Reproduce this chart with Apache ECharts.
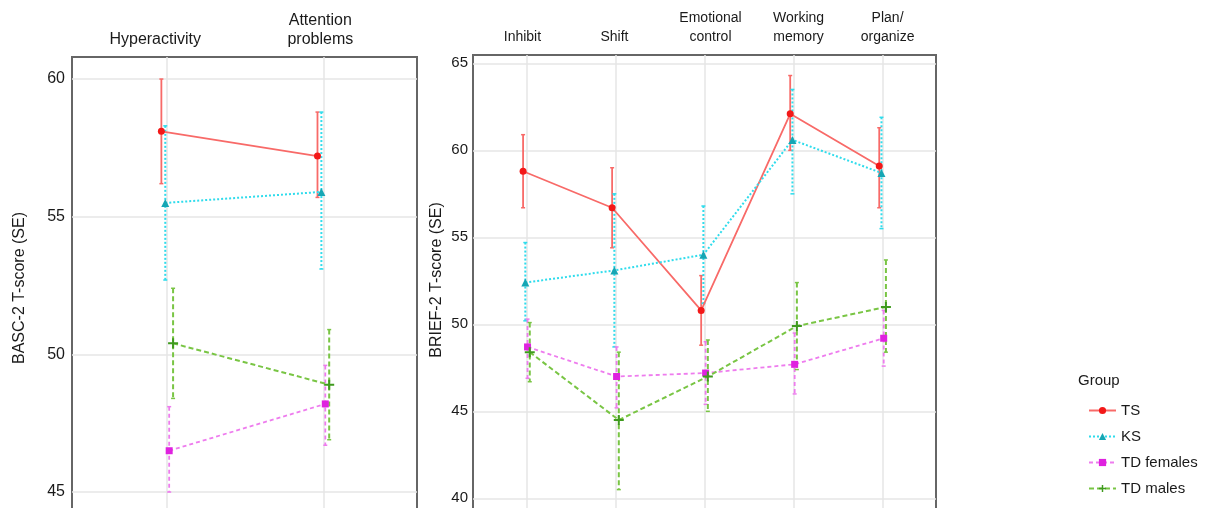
<!DOCTYPE html>
<html>
<head>
<meta charset="utf-8">
<script src="https://cdn.jsdelivr.net/npm/echarts@6/dist/echarts.min.js"></script>
<style>html,body{margin:0;padding:0;background:#fff;}#c{width:1217px;height:508px;}</style>
</head>
<body>
<div id="c"></div>
<script>
// ---- data ----
const bascCats = ['Hyperactivity', 'Attention\nproblems'];
const briefCats = ['Inhibit', 'Shift', 'Emotional\ncontrol', 'Working\nmemory', 'Plan/\norganize'];
const groups = ['TS', 'KS', 'TD females', 'TD males'];
const bascTicks = [45, 50, 55, 60];
const briefTicks = [40, 45, 50, 55, 60, 65];

// BASC-2: mean, lower SE, upper SE per category
const bascTS_mean = [58.1, 57.2];
const bascTS_lo   = [56.2, 55.7];
const bascTS_hi   = [60.0, 58.8];
const bascKS_mean = [55.5, 55.9];
const bascKS_lo   = [52.7, 53.1];
const bascKS_hi   = [58.3, 58.8];
const bascTDf_mean = [46.5, 48.2];
const bascTDf_lo   = [45.0, 46.7];
const bascTDf_hi   = [48.1, 49.6];
const bascTDm_mean = [50.4, 48.9];
const bascTDm_lo   = [48.4, 46.9];
const bascTDm_hi   = [52.4, 50.9];

// BRIEF-2
const briefTS_mean = [58.8, 56.7, 50.8, 62.1, 59.1];
const briefTS_lo   = [56.7, 54.4, 48.8, 60.0, 56.7];
const briefTS_hi   = [60.9, 59.0, 52.8, 64.3, 61.3];
const briefKS_mean = [52.4, 53.1, 54.0, 60.6, 58.7];
const briefKS_lo   = [50.2, 48.7, 51.2, 57.5, 55.5];
const briefKS_hi   = [54.7, 57.5, 56.8, 63.5, 61.9];
const briefTDf_mean = [48.7, 47.0, 47.2, 47.7, 49.2];
const briefTDf_lo   = [46.9, 45.2, 45.4, 46.0, 47.6];
const briefTDf_hi   = [50.3, 48.7, 49.0, 49.5, 50.8];
const briefTDm_mean = [48.4, 44.5, 47.0, 49.9, 51.0];
const briefTDm_lo   = [46.7, 40.5, 45.0, 47.4, 48.4];
const briefTDm_hi   = [50.1, 48.4, 49.1, 52.4, 53.7];

// ---- styles ----
const FONT = "'Liberation Sans', Arial, sans-serif";
const TXT = '#1a1a1a';
const dodge = [-0.0375, -0.0125, 0.0125, 0.0375];
// horizontal nudges (px) of the top category labels
const bascLabelShift = [-12, -3];
const briefLabelShift = [-4, -1, 6, 5, 5];
const styles = [
  { line: '#f86a68', point: '#f31818', dash: 'solid', width: 1.8, symbol: 'circle', size: 7 },
  { line: '#2fdcec', point: '#16a6b4', dash: [2, 2], width: 2, symbol: 'triangle', size: 8 },
  { line: '#ee7cee', point: '#df22df', dash: [4, 3], width: 1.8, symbol: 'rect', size: 7 },
  { line: '#79c544', point: '#3f9a1e', dash: [5, 3], width: 2, symbol: 'path://M4,0H6V4H10V6H6V10H4V6H0V4H4Z', size: 10 }
];

const basc = [
  [bascTS_mean, bascTS_lo, bascTS_hi],
  [bascKS_mean, bascKS_lo, bascKS_hi],
  [bascTDf_mean, bascTDf_lo, bascTDf_hi],
  [bascTDm_mean, bascTDm_lo, bascTDm_hi]
];
const brief = [
  [briefTS_mean, briefTS_lo, briefTS_hi],
  [briefKS_mean, briefKS_lo, briefKS_hi],
  [briefTDf_mean, briefTDf_lo, briefTDf_hi],
  [briefTDm_mean, briefTDm_lo, briefTDm_hi]
];

function errRender(st) {
  return function (params, api) {
    const x = api.value(0);
    const pHi = api.coord([x, api.value(2)]);
    const pLo = api.coord([x, api.value(1)]);
    const s = { stroke: st.line, lineWidth: st.width, lineDash: st.dash === 'solid' ? null : st.dash };
    const cw = 2;
    return {
      type: 'group',
      children: [
        { type: 'line', shape: { x1: pHi[0], y1: pHi[1], x2: pLo[0], y2: pLo[1] }, style: s },
        { type: 'line', shape: { x1: pHi[0] - cw, y1: pHi[1], x2: pHi[0] + cw, y2: pHi[1] }, style: { stroke: st.line, lineWidth: 1.5 } },
        { type: 'line', shape: { x1: pLo[0] - cw, y1: pLo[1], x2: pLo[0] + cw, y2: pLo[1] }, style: { stroke: st.line, lineWidth: 1.5 } }
      ]
    };
  };
}

const series = [];
[basc, brief].forEach(function (panel, gi) {
  panel.forEach(function (g, si) {
    const st = styles[si];
    const mean = g[0], lo = g[1], hi = g[2];
    series.push({
      type: 'custom', name: groups[si] + ' SE', xAxisIndex: gi, yAxisIndex: gi, z: 2,
      renderItem: errRender(st), encode: { x: 0, y: [1, 2] }, silent: true,
      data: mean.map(function (m, i) { return [i + 1 + dodge[si], lo[i], hi[i]]; })
    });
  });
  panel.forEach(function (g, si) {
    const st = styles[si];
    series.push({
      type: 'line', name: groups[si], xAxisIndex: gi, yAxisIndex: gi, z: 3,
      symbol: st.symbol, symbolSize: st.size, showSymbol: true,
      lineStyle: { color: st.line, width: st.width, type: st.dash },
      itemStyle: { color: st.point },
      data: g[0].map(function (m, i) { return [i + 1 + dodge[si], m]; })
    });
  });
});

function xAxis(gi, cats, shifts, min, max, margin, fs) {
  const vals = cats.map(function (c, i) { return i + 1; });
  const rich = {};
  shifts.forEach(function (s, i) {
    rich['s' + i] = { fontSize: fs, lineHeight: 19, color: TXT, fontFamily: FONT,
      padding: s < 0 ? [0, -2 * s, 0, 0] : [0, 0, 0, 2 * s] };
  });
  return {
    type: 'value', gridIndex: gi, position: 'top', min: min, max: max,
    axisLine: { show: false },
    axisTick: { show: false, customValues: vals },
    axisLabel: {
      customValues: vals, margin: margin, fontSize: fs, lineHeight: 19, color: TXT, fontFamily: FONT,
      rich: rich,
      formatter: function (v) {
        const i = Math.round(v) - 1;
        const c = cats[i];
        if (!c) return '';
        return c.split('\n').map(function (t) { return '{s' + i + '|' + t + '}'; }).join('\n');
      }
    },
    splitLine: { show: true, lineStyle: { color: '#e6e6e6', width: 1.5 } }
  };
}
function yAxis(gi, ticks, min, max, margin, fs) {
  return {
    type: 'value', gridIndex: gi, min: min, max: max,
    axisLine: { show: false },
    axisTick: { show: false, customValues: ticks },
    axisLabel: { customValues: ticks, margin: margin, fontSize: fs, color: TXT, fontFamily: FONT },
    splitLine: { show: true, lineStyle: { color: '#e6e6e6', width: 1.5 } }
  };
}

const option = {
  backgroundColor: '#fff',
  animation: false,
  textStyle: { fontFamily: FONT },
  grid: [
    { left: 72, top: 57, width: 345, height: 572.7, show: true, borderColor: '#666', borderWidth: 2, backgroundColor: '#fff', outerBoundsMode: 'none', containLabel: false },
    { left: 473, top: 55, width: 463, height: 530.3, show: true, borderColor: '#666', borderWidth: 2, backgroundColor: '#fff', outerBoundsMode: 'none', containLabel: false }
  ],
  xAxis: [xAxis(0, bascCats, bascLabelShift, 0.39, 2.6, 8, 16), xAxis(1, briefCats, briefLabelShift, 0.4, 5.6, 8, 14)],
  yAxis: [yAxis(0, bascTicks, 40, 60.8, 7, 16), yAxis(1, briefTicks, 35, 65.48, 5, 15)],
  legend: {
    orient: 'vertical', left: 1088, top: 403, height: 200, padding: 0,
    itemWidth: 27, itemHeight: 9, itemGap: 11,
    textStyle: { fontSize: 15, color: TXT, fontFamily: FONT },
    data: groups
  },
  graphic: [
    { type: 'text', x: 20, y: 288, rotation: Math.PI / 2,
      style: { text: 'BASC-2 T-score (SE)', align: 'center', verticalAlign: 'middle', fontSize: 16, fontFamily: FONT, fill: TXT } },
    { type: 'text', x: 437, y: 280, rotation: Math.PI / 2,
      style: { text: 'BRIEF-2 T-score (SE)', align: 'center', verticalAlign: 'middle', fontSize: 16, fontFamily: FONT, fill: TXT } },
    { type: 'text', x: 1078, y: 381,
      style: { text: 'Group', align: 'left', verticalAlign: 'middle', fontSize: 15, fontFamily: FONT, fill: TXT } }
  ],
  series: series
};

const chart = echarts.init(document.getElementById('c'), null, { renderer: 'canvas' });
chart.setOption(option);
</script>
</body>
</html>
